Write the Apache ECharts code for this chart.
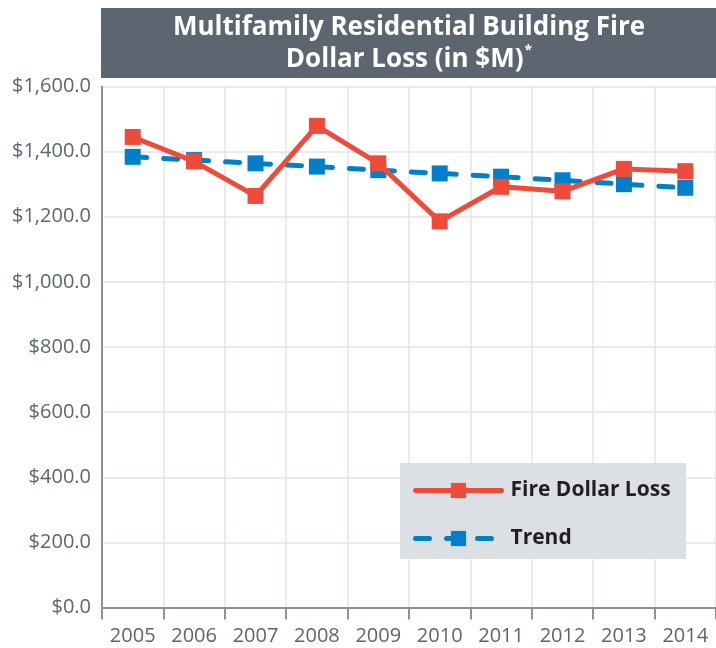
<!DOCTYPE html>
<html>
<head>
<meta charset="utf-8">
<script src="https://cdn.jsdelivr.net/npm/echarts@6/dist/echarts.min.js"></script>
<style>
  html, body { margin: 0; padding: 0; background: #ffffff; }
  #chart { width: 716px; height: 648px; }
</style>
</head>
<body>
<div id="chart"></div>
<script>
const years = ['2005', '2006', '2007', '2008', '2009', '2010', '2011', '2012', '2013', '2014'];
const fireDollarLoss = [1445, 1370, 1264, 1479, 1364, 1186, 1292, 1278, 1347, 1340];
const trend = [1384, 1374, 1364, 1354, 1343, 1333, 1323, 1312, 1300, 1289];
const yTicks = { min: 0, max: 1600, interval: 200 };

function money(v) {
  const s = Math.round(v).toString().replace(/\B(?=(\d{3})+(?!\d))/g, ',');
  return '$' + s + '.0';
}

const chart = echarts.init(document.getElementById('chart'), null, { renderer: 'canvas' });
const font = '"Open Sans", "Noto Sans", sans-serif';

chart.setOption({
  animation: false,
  backgroundColor: '#ffffff',
  textStyle: { fontFamily: font },
  graphic: [
    {
      type: 'rect', z: 0,
      shape: { x: 101, y: 8, width: 615, height: 70 },
      style: { fill: '#5b6670' }
    },
    {
      type: 'text', z: 1,
      x: 409, y: 44,
      style: {
        text: 'Multifamily Residential Building Fire\nDollar Loss (in $M){sup|*}',
        align: 'center', verticalAlign: 'middle',
        fill: '#ffffff',
        fontFamily: font, fontWeight: 'bold', fontSize: 26,
        lineHeight: 32,
        rich: {
          sup: { fontSize: 14, fontWeight: 'bold', fill: '#ffffff', fontFamily: font, verticalAlign: 'top', lineHeight: 32, padding: [0, 0, 10, 1] }
        }
      }
    },
    {
      type: 'rect', z: 3,
      shape: { x: 400, y: 463, width: 286, height: 96 },
      style: { fill: '#dcdfe3' }
    }
  ],
  legend: {
    orient: 'vertical',
    left: 413, top: 480,
    padding: 0,
    itemWidth: 86, itemHeight: 19, itemGap: 27,
    data: ['Fire Dollar Loss', 'Trend'],
    lineStyle: { width: 5, cap: 'round' },
    textStyle: { fontFamily: font, fontSize: 21, fontWeight: 'bold', color: '#231f20', padding: [0, 0, 0, 4] },
    z: 5
  },
  grid: { left: 102, top: 86.5, width: 621, height: 521, containLabel: false },
  xAxis: {
    type: 'category',
    data: years,
    boundaryGap: true,
    axisLine: { show: true, lineStyle: { color: '#8e9296', width: 2 } },
    axisTick: { show: true, length: 12, lineStyle: { color: '#8e9296', width: 2 } },
    axisLabel: { interval: 0, fontSize: 20, color: '#5b6670', margin: 19, fontFamily: font },
    splitLine: { show: true, interval: 0, lineStyle: { color: '#e2e5e8', width: 1.5 } }
  },
  yAxis: {
    type: 'value',
    min: yTicks.min, max: yTicks.max, interval: yTicks.interval,
    axisLine: { show: true, lineStyle: { color: '#8e9296', width: 2 } },
    axisTick: { show: false },
    axisLabel: { fontSize: 20, color: '#5b6670', margin: 11, fontFamily: font, formatter: money },
    splitLine: { show: true, lineStyle: { color: '#e2e5e8', width: 1.5 } }
  },
  series: [
    {
      name: 'Trend',
      type: 'line',
      data: trend,
      z: 2,
      symbol: 'rect', symbolSize: 16,
      itemStyle: { color: '#0080c9' },
      lineStyle: { color: '#0080c9', width: 5, type: [14, 17], cap: 'round' }
    },
    {
      name: 'Fire Dollar Loss',
      type: 'line',
      data: fireDollarLoss,
      z: 3,
      symbol: 'rect', symbolSize: 16,
      itemStyle: { color: '#ef4b3a' },
      lineStyle: { color: '#ef4b3a', width: 5, cap: 'round' }
    }
  ]
});
</script>
</body>
</html>
